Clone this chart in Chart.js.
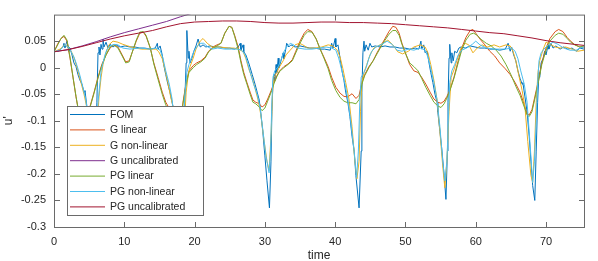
<!DOCTYPE html>
<html>
<head>
<meta charset="utf-8">
<script src="https://cdn.jsdelivr.net/npm/chart.js"></script>
<style>
  html, body { margin: 0; padding: 0; background: #fff; }
</style>
</head>
<body>
<canvas id="grafico" width="598" height="261"></canvas>
<script>
// time / u' pairs
const fom = [[0,0.030],[0.57,0.031],[1.0,0.035],[1.28,0.039],[1.42,0.046],[1.56,0.037],[1.7,0.044],[1.85,0.050],[2.0,0.039],[2.13,0.031],[2.28,0.037],[2.56,0.024],[2.84,0.009],[3.13,0.002],[3.41,-0.013],[3.7,-0.024],[3.98,-0.031],[4.27,-0.046],[4.41,-0.043],[4.55,-0.059],[4.69,-0.074],[5.1,-0.16],[5.55,-0.24],[5.83,-0.18],[6.1,-0.065],[6.26,0.028],[6.4,0.039],[6.54,0.024],[6.69,0.044],[6.83,0.035],[6.97,0.054],[7.11,0.039],[7.4,0.048],[7.68,0.037],[7.97,0.044],[8.39,0.039],[8.82,0.043],[9.39,0.039],[10.1,0.041],[10.8,0.039],[11.5,0.039],[12.2,0.037],[12.9,0.037],[13.7,0.035],[14.4,0.037],[14.7,0.046],[14.8,0.035],[15.1,0.041],[15.4,0.024],[15.6,0.006],[15.9,-0.013],[16.2,-0.031],[16.5,-0.046],[16.8,-0.065],[17.1,-0.083],[17.6,-0.19],[18.07,-0.25],[18.35,-0.157],[18.6,-0.065],[18.8,0.009],[18.9,0.070],[19.1,0.018],[19.2,0.031],[19.35,0.009],[19.6,0.017],[19.9,0.031],[20.2,0.041],[20.5,0.054],[20.8,0.039],[21.2,0.043],[21.6,0.039],[22.2,0.041],[22.9,0.039],[23.6,0.039],[24.3,0.037],[25.0,0.037],[25.7,0.035],[26.2,0.039],[26.5,0.046],[26.6,0.033],[26.9,0.043],[27.0,0.030],[27.3,0.024],[27.7,0.009],[28.2,-0.013],[28.6,-0.031],[28.9,-0.046],[29.2,-0.061],[29.4,-0.083],[29.7,-0.12],[30.0,-0.166],[30.3,-0.213],[30.65,-0.264],[30.87,-0.176],[31.0,-0.083],[31.15,-0.028],[31.3,-0.013],[31.4,-0.024],[31.6,0.006],[31.7,-0.009],[31.9,0.018],[32.0,0.0],[32.3,0.013],[32.6,0.028],[32.7,0.017],[33.0,0.037],[33.1,0.046],[33.4,0.039],[33.7,0.043],[34.3,0.039],[35.0,0.041],[35.7,0.039],[36.4,0.037],[37.1,0.037],[37.8,0.035],[38.5,0.035],[39.3,0.033],[39.5,0.046],[39.7,0.037],[40.0,0.055],[40.1,0.039],[40.4,0.043],[40.7,0.018],[40.97,-0.006],[41.25,-0.024],[41.5,-0.046],[41.8,-0.065],[42.1,-0.092],[42.4,-0.129],[42.7,-0.157],[42.95,-0.203],[43.4,-0.264],[43.7,-0.157],[43.8,-0.046],[43.95,0.028],[44.1,0.05],[44.2,0.031],[44.4,0.043],[44.7,0.033],[44.95,0.046],[45.2,0.039],[45.7,0.041],[46.4,0.039],[47.1,0.041],[47.8,0.039],[48.5,0.039],[49.2,0.037],[49.9,0.037],[50.6,0.035],[51.4,0.037],[51.9,0.035],[52.2,0.05],[52.3,0.035],[52.6,0.043],[52.8,0.028],[53.1,0.031],[53.3,0.013],[53.6,-0.009],[53.9,-0.028],[54.2,-0.05],[54.5,-0.065],[54.6,-0.083],[54.9,-0.12],[55.2,-0.157],[55.5,-0.203],[55.76,-0.248],[55.97,-0.157],[56.05,-0.065],[56.2,0.018],[56.3,0.044],[56.5,0.009],[56.6,0.028],[56.8,0.013],[57.0,0.031],[57.3,0.028],[57.6,0.037],[57.9,0.039],[58.5,0.037],[59.2,0.041],[59.9,0.039],[60.6,0.037],[61.3,0.037],[62.0,0.035],[62.7,0.035],[63.4,0.033],[64.2,0.035],[64.6,0.046],[64.9,0.031],[65.1,0.039],[65.4,0.024],[65.7,0.013],[66.0,-0.006],[66.3,-0.02],[66.6,-0.031],[66.7,-0.028],[67.0,-0.055],[67.3,-0.083],[67.6,-0.129],[67.85,-0.176],[68.1,-0.222],[68.4,-0.25],[68.6,-0.157],[68.8,-0.065],[68.99,-0.009],[69.1,-0.018],[69.3,0.009],[69.6,0.018],[69.8,0.031],[70.0,0.024],[70.3,0.043],[70.4,0.035],[70.7,0.046],[71.0,0.037],[71.4,0.041],[72.0,0.035],[72.5,0.039],[73.1,0.035],[73.7,0.037],[74.3,0.031],[74.8,0.037],[75.4,0.035]];

const gLinear = [[0,0.030],[0.57,0.046],[1.0,0.055],[1.42,0.059],[1.85,0.050],[2.28,0.018],[2.7,-0.018],[3.13,-0.055],[3.56,-0.087],[4.1,-0.11],[4.7,-0.092],[5.1,-0.074],[5.7,-0.046],[6.26,-0.018],[6.8,0.006],[7.4,0.024],[7.97,0.037],[8.5,0.043],[9.1,0.039],[9.7,0.024],[10.2,0.011],[10.7,0.013],[11.1,0.028],[11.7,0.05],[12.2,0.065],[12.7,0.067],[13.1,0.059],[13.7,0.037],[14.2,0.009],[14.8,-0.018],[15.4,-0.046],[15.9,-0.065],[16.5,-0.079],[17.1,-0.1],[17.6,-0.12],[18.07,-0.1],[18.35,-0.065],[18.8,-0.028],[19.2,-0.006],[19.8,0.004],[20.3,0.009],[20.9,0.013],[21.5,0.020],[22.0,0.031],[22.6,0.039],[23.2,0.043],[23.75,0.046],[24.3,0.065],[24.9,0.078],[25.3,0.076],[25.7,0.061],[26.2,0.039],[26.6,0.013],[27.0,-0.009],[27.45,-0.028],[27.9,-0.046],[28.3,-0.061],[28.7,-0.065],[29.2,-0.068],[29.6,-0.074],[30.0,-0.070],[30.4,-0.059],[30.9,-0.043],[31.3,-0.028],[31.7,-0.015],[32.1,-0.006],[32.7,0.002],[33.3,0.007],[33.9,0.015],[34.4,0.031],[35.0,0.05],[35.6,0.065],[36.1,0.072],[36.7,0.068],[37.3,0.054],[37.8,0.037],[38.4,0.020],[39.0,0.002],[39.5,-0.018],[40.1,-0.037],[40.7,-0.048],[41.25,-0.054],[41.8,-0.055],[42.4,-0.049],[42.96,-0.058],[43.4,-0.052],[43.8,-0.028],[44.2,-0.013],[44.8,0.002],[45.4,0.013],[45.95,0.028],[46.5,0.041],[47.1,0.055],[47.65,0.068],[48.2,0.078],[48.65,0.076],[49.1,0.065],[49.5,0.046],[50.1,0.024],[50.6,0.006],[51.2,-0.006],[51.8,-0.009],[52.3,-0.018],[52.9,-0.031],[53.5,-0.046],[54.05,-0.059],[54.6,-0.065],[55.05,-0.067],[55.5,-0.063],[55.9,-0.054],[56.3,-0.043],[56.9,-0.018],[57.5,0.013],[58.0,0.037],[58.6,0.057],[59.2,0.070],[59.6,0.072],[60.0,0.065],[60.6,0.054],[61.3,0.043],[62.0,0.031],[62.7,0.022],[63.4,0.009],[64.2,-0.002],[64.9,-0.013],[65.6,-0.028],[66.3,-0.046],[66.9,-0.070],[67.3,-0.087],[67.6,-0.089],[68.0,-0.079],[68.4,-0.055],[68.85,-0.028],[69.4,0.009],[70.0,0.037],[70.55,0.055],[71.3,0.068],[71.8,0.072],[72.4,0.068],[73.0,0.057],[73.5,0.050],[74.1,0.043],[74.8,0.039],[75.4,0.039]];

const gNonLinear = [[0,0.030],[0.85,0.035],[1.56,0.043],[2.13,0.037],[2.56,0.028],[3.0,0.013],[3.4,-0.006],[3.84,-0.028],[4.27,-0.05],[4.69,-0.076],[5.26,-0.157],[5.7,-0.194],[6.1,-0.12],[6.4,-0.055],[6.7,-0.018],[6.97,0.006],[7.4,0.028],[7.8,0.043],[8.4,0.05],[9.1,0.048],[9.8,0.044],[10.5,0.041],[11.5,0.037],[12.5,0.035],[13.7,0.035],[14.5,0.035],[14.9,0.030],[15.4,0.017],[15.8,-0.004],[16.2,-0.028],[16.6,-0.055],[17.1,-0.083],[17.6,-0.157],[18.07,-0.198],[18.5,-0.12],[18.8,-0.046],[19.1,-0.013],[19.35,0.002],[19.8,0.018],[20.2,0.035],[20.8,0.05],[21.2,0.055],[21.8,0.046],[22.5,0.039],[23.6,0.039],[24.8,0.037],[25.6,0.037],[26.3,0.035],[26.9,0.030],[27.3,0.017],[27.7,-0.002],[28.2,-0.02],[28.6,-0.039],[29.0,-0.059],[29.4,-0.087],[29.9,-0.139],[30.3,-0.176],[30.6,-0.194],[30.9,-0.12],[31.1,-0.046],[31.3,-0.018],[31.7,-0.009],[32.1,0.002],[32.6,0.013],[33.0,0.024],[33.6,0.033],[34.3,0.043],[34.9,0.046],[35.4,0.043],[36.1,0.037],[37.1,0.037],[38.1,0.039],[39.0,0.043],[39.7,0.041],[40.3,0.033],[40.7,0.020],[41.1,-0.002],[41.5,-0.028],[41.96,-0.059],[42.4,-0.111],[42.8,-0.176],[43.1,-0.209],[43.4,-0.176],[43.6,-0.083],[43.8,-0.028],[44.1,-0.009],[44.5,0.006],[44.95,0.024],[45.5,0.037],[46.1,0.041],[46.8,0.046],[47.5,0.052],[48.2,0.043],[48.9,0.030],[49.6,0.026],[50.4,0.031],[51.2,0.039],[52.1,0.043],[52.8,0.039],[53.2,0.028],[53.6,0.006],[54.05,-0.024],[54.5,-0.061],[54.9,-0.12],[55.3,-0.185],[55.6,-0.226],[55.9,-0.176],[56.2,-0.083],[56.5,-0.018],[56.9,-0.004],[57.3,0.013],[57.9,0.037],[58.5,0.046],[59.0,0.043],[59.6,0.028],[60.2,0.037],[60.9,0.043],[61.7,0.039],[62.6,0.043],[63.4,0.039],[64.3,0.043],[64.9,0.041],[65.3,0.031],[65.7,0.013],[66.1,-0.013],[66.6,-0.043],[67.0,-0.074],[67.4,-0.139],[67.85,-0.203],[68.1,-0.216],[68.35,-0.157],[68.6,-0.065],[68.85,-0.009],[69.1,0.013],[69.6,0.035],[70.0,0.048],[70.6,0.044],[71.3,0.039],[72.0,0.037],[72.8,0.039],[73.7,0.035],[74.5,0.031],[75.4,0.033]];

const gUncalibrated = [[0,0.030],[2,0.034],[4,0.041],[6,0.049],[8,0.058],[10,0.066],[12,0.073],[14,0.080],[16,0.087],[18,0.096],[20,0.104],[22,0.110]];

const pgLinear = [[0,0.030],[0.57,0.044],[1.0,0.055],[1.42,0.061],[1.85,0.052],[2.28,0.020],[2.7,-0.017],[3.13,-0.054],[3.56,-0.087],[4.1,-0.115],[4.7,-0.098],[5.1,-0.076],[5.7,-0.048],[6.26,-0.02],[6.8,0.004],[7.4,0.024],[7.97,0.039],[8.5,0.043],[9.1,0.037],[9.7,0.022],[10.2,0.009],[10.7,0.011],[11.1,0.028],[11.7,0.052],[12.2,0.067],[12.7,0.068],[13.1,0.061],[13.7,0.037],[14.2,0.007],[14.8,-0.022],[15.4,-0.05],[15.9,-0.07],[16.5,-0.087],[17.1,-0.111],[17.6,-0.126],[18.07,-0.105],[18.35,-0.068],[18.8,-0.031],[19.2,-0.009],[19.8,0.0],[20.3,0.006],[20.9,0.011],[21.5,0.018],[22.0,0.030],[22.6,0.037],[23.2,0.041],[23.75,0.046],[24.3,0.065],[24.9,0.078],[25.3,0.076],[25.7,0.059],[26.2,0.035],[26.6,0.009],[27.0,-0.013],[27.45,-0.031],[27.9,-0.05],[28.3,-0.065],[28.7,-0.068],[29.2,-0.074],[29.6,-0.081],[30.0,-0.076],[30.4,-0.063],[30.9,-0.046],[31.3,-0.030],[31.7,-0.017],[32.1,-0.007],[32.7,0.0],[33.3,0.006],[33.9,0.013],[34.4,0.028],[35.0,0.046],[35.6,0.061],[36.1,0.068],[36.7,0.067],[37.3,0.054],[37.8,0.037],[38.4,0.018],[39.0,-0.002],[39.5,-0.024],[40.1,-0.043],[40.7,-0.056],[41.25,-0.063],[41.8,-0.066],[42.4,-0.066],[42.96,-0.068],[43.4,-0.060],[43.8,-0.031],[44.2,-0.015],[44.8,0.0],[45.4,0.013],[45.95,0.026],[46.5,0.039],[47.1,0.052],[47.65,0.063],[48.2,0.070],[48.65,0.070],[49.1,0.061],[49.5,0.044],[50.1,0.024],[50.6,0.009],[51.2,0.002],[51.8,-0.006],[52.3,-0.020],[52.9,-0.037],[53.5,-0.052],[54.05,-0.065],[54.6,-0.072],[55.05,-0.075],[55.5,-0.068],[55.9,-0.057],[56.3,-0.044],[56.9,-0.020],[57.5,0.009],[58.0,0.033],[58.6,0.052],[59.2,0.063],[59.7,0.065],[60.2,0.061],[60.7,0.054],[61.5,0.046],[62.2,0.041],[62.9,0.033],[63.6,0.022],[64.3,0.006],[65.0,-0.013],[65.7,-0.035],[66.3,-0.052],[66.9,-0.074],[67.3,-0.089],[67.6,-0.092],[68.0,-0.083],[68.4,-0.059],[68.85,-0.031],[69.4,0.006],[70.0,0.033],[70.55,0.05],[71.3,0.061],[71.8,0.065],[72.4,0.063],[73.0,0.055],[73.5,0.048],[74.1,0.043],[74.8,0.039],[75.4,0.041]];

const pgNonLinear = [[0,0.030],[0.85,0.033],[1.56,0.043],[2.0,0.039],[2.4,0.031],[2.85,0.020],[3.27,0.004],[3.7,-0.015],[4.1,-0.037],[4.55,-0.061],[5.1,-0.14],[5.55,-0.198],[5.97,-0.14],[6.26,-0.065],[6.54,-0.028],[6.7,-0.006],[6.97,0.009],[7.25,0.024],[7.54,0.035],[7.97,0.041],[8.53,0.044],[9.1,0.043],[9.8,0.037],[10.8,0.035],[12.2,0.037],[13.7,0.035],[14.5,0.037],[15.1,0.033],[15.5,0.018],[15.9,-0.006],[16.4,-0.031],[16.8,-0.059],[17.35,-0.14],[17.9,-0.198],[18.35,-0.14],[18.6,-0.055],[18.9,-0.009],[19.2,0.006],[19.5,0.017],[19.9,0.031],[20.3,0.039],[20.8,0.046],[21.3,0.046],[21.9,0.039],[22.5,0.035],[23.3,0.037],[24.3,0.035],[25.3,0.035],[26.2,0.035],[26.7,0.033],[27.2,0.024],[27.6,0.006],[28.0,-0.013],[28.4,-0.031],[28.9,-0.05],[29.3,-0.074],[29.7,-0.116],[30.15,-0.166],[30.6,-0.198],[30.8,-0.157],[31.0,-0.065],[31.15,-0.018],[31.4,-0.006],[31.9,0.002],[32.3,0.015],[32.7,0.030],[33.1,0.039],[33.6,0.046],[34.1,0.043],[34.7,0.037],[35.7,0.035],[36.7,0.035],[37.8,0.037],[38.7,0.039],[39.5,0.037],[40.1,0.033],[40.5,0.018],[40.97,-0.006],[41.4,-0.031],[41.8,-0.059],[42.2,-0.1],[42.7,-0.157],[43.05,-0.207],[43.3,-0.157],[43.5,-0.065],[43.7,-0.018],[44.1,-0.009],[44.4,0.0],[44.8,0.018],[45.2,0.031],[45.8,0.039],[46.5,0.043],[47.4,0.05],[48.1,0.044],[48.8,0.033],[49.5,0.031],[50.4,0.035],[51.2,0.033],[52.1,0.037],[52.8,0.033],[53.2,0.020],[53.6,-0.002],[54.05,-0.028],[54.5,-0.061],[54.9,-0.111],[55.3,-0.176],[55.6,-0.213],[55.9,-0.176],[56.1,-0.1],[56.3,-0.028],[56.6,-0.006],[57.0,0.006],[57.5,0.024],[58.0,0.033],[58.7,0.037],[59.5,0.044],[60.0,0.05],[60.6,0.043],[61.5,0.037],[62.7,0.035],[64.2,0.035],[65.1,0.037],[65.6,0.031],[66.0,0.017],[66.4,-0.006],[66.9,-0.031],[67.3,-0.065],[67.7,-0.139],[68.1,-0.216],[68.35,-0.176],[68.6,-0.1],[68.8,-0.028],[69.0,0.013],[69.3,0.028],[69.7,0.035],[70.3,0.043],[71.0,0.048],[71.7,0.044],[72.5,0.037],[73.4,0.033],[74.3,0.033],[74.8,0.037],[75.4,0.039]];

const pgUncalibrated = [[0,0.030],[2,0.034],[4,0.040],[6,0.047],[8,0.054],[10,0.060],[12,0.065],[14,0.070],[16,0.077],[18,0.083],[20,0.086],[22,0.087],[24,0.088],[26,0.088],[28,0.087],[30,0.085],[32,0.084],[34,0.084],[36,0.085],[38,0.086],[40,0.086],[42,0.085],[44,0.085],[46,0.084],[48,0.083],[50,0.081],[52,0.079],[54,0.077],[56,0.075],[58,0.072],[60,0.069],[62,0.066],[64,0.064],[66,0.060],[68,0.056],[70,0.051],[72,0.047],[74,0.044],[75.4,0.042]];

const seriesNames = ['FOM', 'G linear', 'G non-linear', 'G uncalibrated', 'PG linear', 'PG non-linear', 'PG uncalibrated'];
const seriesData = [fom, gLinear, gNonLinear, gUncalibrated, pgLinear, pgNonLinear, pgUncalibrated];
const seriesColors = ['#0072BD', '#D95319', '#EDB120', '#7E2F8E', '#77AC30', '#4DBEEE', '#A2142F'];

const xTicks = [0, 10, 20, 30, 40, 50, 60, 70];
const yTicks = [-0.3, -0.25, -0.2, -0.15, -0.1, -0.05, 0, 0.05];

const FONT = 'Liberation Sans, Arial, Helvetica, sans-serif';
const TEXT = '#262626';
const FRAME = '#6a6a6a';

// matlab style box with inward ticks, plus the legend inside the axes
const boxAndLegend = {
  id: 'boxAndLegend',
  afterDatasetsDraw(chart) {
    const ctx = chart.ctx;
    const { left, right, top, bottom } = chart.chartArea;
    const xs = chart.scales.x, ys = chart.scales.y;
    ctx.save();
    ctx.strokeStyle = FRAME;
    ctx.lineWidth = 1;
    ctx.strokeRect(left + 0.5, top + 0.5, right - left, bottom - top);
    ctx.beginPath();
    xTicks.forEach(v => {
      const px = Math.round(xs.getPixelForValue(v)) + 0.5;
      ctx.moveTo(px, bottom + 0.5); ctx.lineTo(px, bottom - 5);
      ctx.moveTo(px, top + 0.5); ctx.lineTo(px, top + 6);
    });
    yTicks.forEach(v => {
      const py = Math.round(ys.getPixelForValue(v)) + 0.5;
      ctx.moveTo(left + 0.5, py); ctx.lineTo(left + 6, py);
      ctx.moveTo(right + 0.5, py); ctx.lineTo(right - 5, py);
    });
    ctx.stroke();

    // legend
    const lx = 67, ly = 106, lw = 136, lh = 109;
    ctx.fillStyle = '#fff';
    ctx.fillRect(lx, ly, lw, lh);
    ctx.strokeStyle = FRAME;
    ctx.strokeRect(lx + 0.5, ly + 0.5, lw, lh);
    ctx.font = '10.5px ' + FONT;
    ctx.textBaseline = 'middle';
    ctx.textAlign = 'left';
    chart.data.datasets.forEach((ds, i) => {
      const y = 114.5 + i * 15.4;
      ctx.strokeStyle = ds.borderColor;
      ctx.beginPath();
      ctx.moveTo(70, y); ctx.lineTo(105, y);
      ctx.stroke();
      ctx.fillStyle = TEXT;
      ctx.fillText(ds.label, 110, y + 0.5);
    });
    ctx.restore();
  }
};

const ctx = document.getElementById('grafico').getContext('2d');
const grafico = new Chart(ctx, {
  type: 'line',
  data: {
    datasets: seriesNames.map((name, i) => ({
      label: name,
      data: seriesData[i].map(p => ({ x: p[0], y: p[1] })),
      borderColor: seriesColors[i],
      backgroundColor: seriesColors[i],
      borderWidth: 1,
      pointRadius: 0,
      tension: 0,
      fill: false,
      order: seriesNames.length - i
    }))
  },
  options: {
    responsive: false,
    animation: false,
    layout: { padding: { top: 11, right: 14, bottom: 0, left: 0 } },
    plugins: {
      legend: { display: false },
      tooltip: { enabled: false }
    },
    scales: {
      x: {
        type: 'linear',
        min: 0,
        max: 75.4,
        grid: { display: false, drawTicks: false },
        border: { display: false },
        afterBuildTicks: s => { s.ticks = xTicks.map(v => ({ value: v })); },
        afterFit: s => { s.height = 34; },
        ticks: { padding: 8, color: TEXT, font: { family: FONT, size: 11 }, maxRotation: 0, autoSkip: false },
        title: { display: true, text: 'time', color: TEXT, font: { family: FONT, size: 12, lineHeight: 1 }, padding: { top: 0, bottom: -1 } }
      },
      y: {
        type: 'linear',
        min: -0.3,
        max: 0.1,
        grid: { display: false, drawTicks: false },
        border: { display: false },
        afterBuildTicks: s => { s.ticks = yTicks.map(v => ({ value: v })); },
        afterFit: s => { s.width = 54; },
        ticks: {
          padding: 8, color: TEXT, font: { family: FONT, size: 11 }, autoSkip: false,
          callback: v => String(+v.toFixed(2))
        },
        title: { display: true, text: "u'", color: TEXT, font: { family: FONT, size: 12 }, padding: { top: 1, bottom: 0 } }
      }
    }
  },
  plugins: [boxAndLegend]
});
</script>
</body>
</html>
